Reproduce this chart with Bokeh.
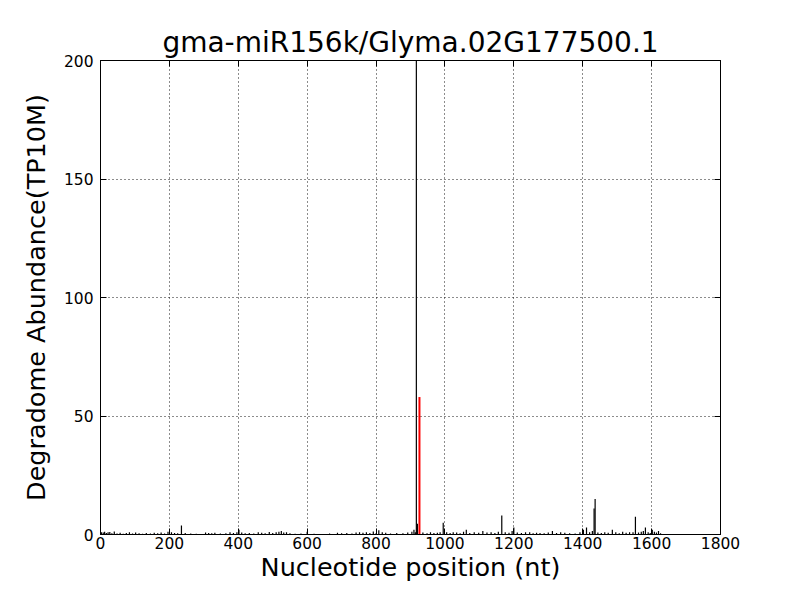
from bokeh.plotting import figure
from bokeh.models import LinearAxis, Range1d, FixedTicker, CustomJSTickFormatter
from bokeh.embed import file_html
from bokeh.resources import INLINE

title_text = "gma-miR156k/Glyma.02G177500.1"
x_label = "Nucleotide position (nt)"
y_label = "Degradome Abundance(TP10M)"
x_ticks = [0, 200, 400, 600, 800, 1000, 1200, 1400, 1600, 1800]
y_ticks = [0, 50, 100, 150, 200]

pos_black = [
    3, 8, 12, 17, 22, 27, 33, 40, 48, 57,
    66, 75, 84, 93, 102, 112, 122, 133, 145, 156,
    166, 176, 186, 196, 206, 215, 224, 235, 246, 262,
    278, 296, 305, 314, 323, 332, 348, 364, 376, 386,
    396, 402, 410, 420, 432, 445, 458, 468, 478, 490,
    500, 510, 518, 525, 532, 540, 550, 565, 582, 600,
    620, 645, 665, 688, 700, 715, 730, 742, 752, 762,
    772, 782, 792, 800, 808, 818, 828, 842, 860, 878,
    892, 904, 910, 914, 917, 920, 936, 948, 958, 968,
    978, 986, 995, 1005, 1015, 1024, 1034, 1044, 1054, 1062,
    1072, 1085, 1098, 1110, 1122, 1134, 1145, 1155, 1165, 1175,
    1186, 1195, 1200, 1210, 1222, 1234, 1246, 1256, 1266, 1276,
    1288, 1300, 1312, 1324, 1336, 1348, 1362, 1378, 1392, 1402,
    1411, 1420, 1428, 1433, 1436, 1444, 1454, 1464, 1474, 1486,
    1496, 1506, 1516, 1526, 1536, 1546, 1553, 1562, 1570, 1576,
    1582, 1590, 1596, 1602, 1608, 1614, 1620, 1626,
]
val_black = [
    1.0, 0.8, 1.2, 0.6, 0.9, 1.1, 0.5, 1.3, 0.4, 0.7,
    0.3, 0.6, 0.9, 0.4, 0.8, 0.5, 0.3, 0.6, 0.4, 0.7,
    0.5, 0.8, 0.4, 1.2, 0.9, 0.6, 0.5, 3.8, 0.6, 0.4,
    0.3, 0.2, 0.8, 0.6, 0.5, 0.7, 0.4, 0.5, 0.9, 0.6,
    1.0, 2.0, 0.8, 0.5, 0.6, 0.4, 0.9, 0.7, 0.5, 1.1,
    0.6, 0.9, 1.2, 1.5, 0.8, 1.0, 0.5, 0.3, 0.4, 1.2,
    0.3, 0.2, 0.4, 0.7, 0.5, 0.6, 0.4, 0.8, 1.0, 0.7,
    0.9, 0.6, 1.3, 0.5, 1.8, 1.0, 0.7, 0.4, 0.6, 0.5,
    0.8, 1.2, 2.0, 1.0, 260.0, 4.5, 0.8, 0.5, 0.9, 0.6,
    0.7, 1.0, 5.0, 0.9, 0.6, 1.0, 0.8, 0.5, 1.2, 2.0,
    0.6, 0.9, 0.7, 1.5, 0.8, 1.0, 0.6, 1.2, 8.0, 0.9,
    0.7, 1.5, 3.0, 0.8, 0.6, 0.9, 1.0, 0.5, 0.7, 0.6,
    0.5, 0.8, 1.5, 0.6, 1.0, 0.7, 0.5, 0.4, 0.9, 2.0,
    3.0, 1.0, 1.5, 11.0, 15.0, 0.8, 0.6, 1.0, 0.7, 2.0,
    0.9, 0.5, 1.2, 0.7, 0.9, 1.0, 7.5, 0.8, 1.2, 1.5,
    3.0, 1.0, 0.6, 2.0, 1.2, 0.8, 1.5, 0.5,
]
pos_red = [926]
val_red = [58.0]

FONT = "DejaVu Sans"

p = figure(width=784, height=584, output_backend="svg", toolbar_location=None,
           x_range=Range1d(0, 1800), y_range=Range1d(0, 200),
           min_border_left=100, min_border_right=64, min_border_top=60,
           min_border_bottom=48)
p.title.text = title_text
p.title.align = "center"
p.title.text_font = FONT
p.title.text_font_size = "28px"
p.title.text_font_style = "normal"
p.title.text_color = "black"
p.title.standoff = 4

p.outline_line_color = "black"
p.outline_line_width = 1
p.background_fill_color = "white"
p.border_fill_color = "white"

for ax in [p.xaxis[0], p.yaxis[0]]:
    ax.axis_label_text_font = FONT
    ax.axis_label_text_font_size = "25.5px"
    ax.axis_label_text_font_style = "normal"
    ax.axis_label_text_color = "black"
    ax.major_label_text_font = FONT
    ax.major_label_text_font_size = "15.5px"
    ax.major_label_text_color = "black"
    ax.major_tick_in = 6
    ax.major_tick_out = 0
    ax.minor_tick_in = 0
    ax.minor_tick_out = 0
    ax.axis_line_color = "black"
    ax.major_tick_line_color = "black"

p.xaxis.axis_label = x_label
p.yaxis.axis_label = y_label
p.xaxis.ticker = FixedTicker(ticks=x_ticks)
p.yaxis.ticker = FixedTicker(ticks=y_ticks)
p.xaxis.major_label_standoff = 2
p.yaxis.major_label_standoff = 7
p.xaxis.axis_label_standoff = 0
p.yaxis.axis_label_standoff = 10

for loc, ticks in [("right", y_ticks), ("above", x_ticks)]:
    a = LinearAxis(ticker=FixedTicker(ticks=ticks),
                   formatter=CustomJSTickFormatter(code="return ''"))
    a.major_tick_in = 6
    a.major_tick_out = 0
    a.minor_tick_in = 0
    a.minor_tick_out = 0
    a.major_label_standoff = 0
    a.axis_line_color = "black"
    a.major_tick_line_color = "black"
    p.add_layout(a, loc)

p.xgrid.ticker = FixedTicker(ticks=x_ticks)
p.ygrid.ticker = FixedTicker(ticks=y_ticks)
for g in [p.xgrid[0], p.ygrid[0]]:
    g.grid_line_color = "black"
    g.grid_line_dash = "1 3"
    g.grid_line_width = 1
    g.grid_line_alpha = 0.9

p.segment(x0=pos_black, y0=[0] * len(pos_black), x1=pos_black, y1=val_black,
          line_color="black", line_width=1.2)
p.segment(x0=pos_red, y0=[0] * len(pos_red), x1=pos_red, y1=val_red,
          line_color="red", line_width=2)

open("out.html", "w").write(file_html(p, INLINE))
